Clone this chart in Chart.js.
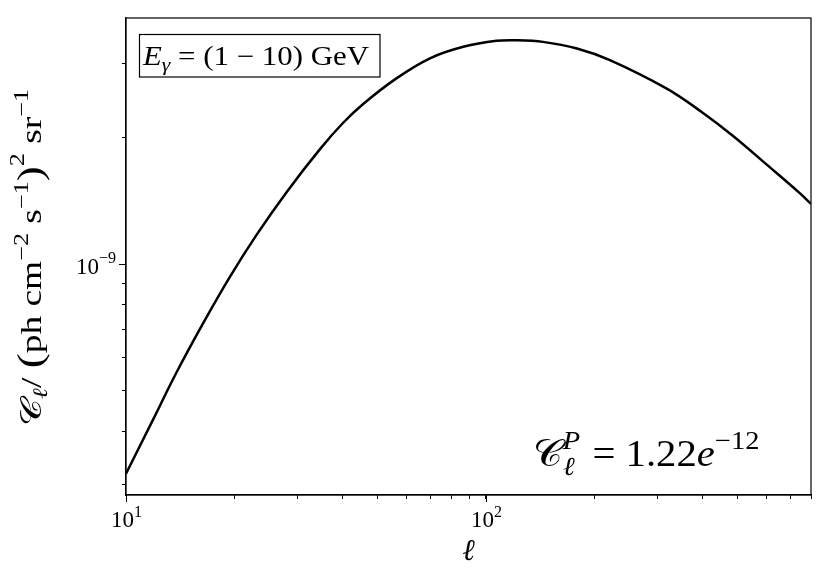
<!DOCTYPE html>
<html lang="en">
<head>
<meta charset="UTF-8">
<script src="https://cdn.jsdelivr.net/npm/chart.js"></script>
<title>Angular power spectrum</title>
<style>
  html, body { margin: 0; padding: 0; background: #fff; }
</style>
</head>
<body>
<canvas id="grafico" width="830" height="581"></canvas>
<script>
// multipole values
const ellValues = [10, 11.9, 13.8, 16.4, 19.4, 23.0, 27.9, 34.5, 40, 45.6, 56.4, 69.9, 86.5,
  107, 122, 144, 179, 221, 318, 394, 488, 604, 747, 800];
// C_l in units of 1e-9 (ph cm^-2 s^-1)^2 sr^-1
const clValues = [0.318, 0.428, 0.552, 0.725, 0.93, 1.17, 1.48, 1.87, 2.16, 2.40, 2.76, 3.08, 3.28,
  3.39, 3.40, 3.37, 3.25, 3.05, 2.61, 2.31, 2.01, 1.72, 1.47, 1.39];

const xTickValues = [10, 20, 30, 40, 50, 60, 70, 80, 90, 100, 200, 300, 400, 500, 600, 700, 800];
const xMajorTicks = [[10, '1'], [100, '2']];
const yTickValues = [3e-10, 4e-10, 5e-10, 6e-10, 7e-10, 8e-10, 9e-10, 1e-9, 2e-9, 3e-9];
const yMajorTicks = [[1e-9, '\u22129']];

const SERIF = '"Liberation Serif", "DejaVu Serif", serif';

function font(size, italic) {
  return (italic ? 'italic ' : '') + size + 'px ' + SERIF;
}

// runs: [text, sizeFactor, dy (in em, + is down), italic]
function runsWidth(ctx, runs, size) {
  let w = 0;
  runs.forEach(r => {
    ctx.font = font(size * r[1], r[3]);
    w += ctx.measureText(r[0]).width;
  });
  return w;
}
function drawRuns(ctx, runs, x, y, size) {
  let cx = x;
  runs.forEach(r => {
    ctx.font = font(size * r[1], r[3]);
    ctx.fillText(r[0], cx, y + r[2] * size);
    cx += ctx.measureText(r[0]).width;
  });
  return cx;
}
// same, stretched along the text to a given width (CM is wider than Times)
function drawRunsFit(ctx, runs, x, y, size, width) {
  const w = runsWidth(ctx, runs, size);
  ctx.save();
  ctx.translate(x, y);
  ctx.scale(width / w, 1);
  drawRuns(ctx, runs, 0, 0, size);
  ctx.restore();
}

const decor = {
  id: 'decor',
  afterDraw(chart) {
    const ctx = chart.ctx;
    const a = chart.chartArea;
    const xs = chart.scales.x, ys = chart.scales.y;
    ctx.save();
    ctx.strokeStyle = '#000';
    ctx.fillStyle = '#000';
    ctx.lineWidth = 1.2;
    ctx.strokeRect(a.left, a.top, a.right - a.left, a.bottom - a.top);

    // major ticks a bit longer, with their labels
    ctx.lineWidth = 1;
    ctx.textBaseline = 'alphabetic';
    xMajorTicks.forEach(([v, e]) => {
      const px = Math.round(xs.getPixelForValue(v)) + 0.5;
      ctx.beginPath(); ctx.moveTo(px, a.bottom); ctx.lineTo(px, a.bottom + 7); ctx.stroke();
      const runs = [['10', 1, 0, false], [e, 0.7, -0.45, false]];
      const w = runsWidth(ctx, runs, 23);
      drawRuns(ctx, runs, px - w / 2, 527, 23);
    });
    yMajorTicks.forEach(([v, e]) => {
      const py = Math.round(ys.getPixelForValue(v)) + 0.5;
      ctx.beginPath(); ctx.moveTo(a.left, py); ctx.lineTo(a.left - 7, py); ctx.stroke();
      const runs = [['10', 1, 0, false], [e, 0.7, -0.45, false]];
      const w = runsWidth(ctx, runs, 23);
      drawRuns(ctx, runs, 116 - w, py + 9, 23);
    });

    // x axis title
    ctx.font = font(30, true);
    ctx.textAlign = 'center';
    ctx.fillText('\u2113', (a.left + a.right) / 2, 560);
    ctx.textAlign = 'left';

    // y axis title, rotated
    const yRuns = [
      ['\uD835\uDC9E', 1, 0, false], ['\u2113', 0.7, 0.22, true], ['/ ', 1, 0, false],
      ['(', 1.2, 0.05, false], ['ph cm', 1, 0, false], ['\u22122', 0.7, -0.45, false],
      [' s', 1, 0, false], ['\u22121', 0.7, -0.45, false], [')', 1.2, 0.05, false],
      ['2', 0.7, -0.6, false], [' sr', 1, 0, false], ['\u22121', 0.7, -0.45, false]
    ];
    ctx.save();
    ctx.translate(41, 258);
    ctx.rotate(-Math.PI / 2);
    drawRunsFit(ctx, yRuns, -168, 0, 29, 337);
    ctx.restore();

    // energy box
    ctx.lineWidth = 1.2;
    ctx.strokeRect(139.5, 34.5, 240.5, 42.5);
    drawRunsFit(ctx, [['E', 1, 0, true], ['\u03B3', 0.7, 0.22, true], [' = (1 \u2212 10) GeV', 1, 0, false]],
      143, 65, 27, 226);

    // Poisson term annotation
    const s = 37;
    const x0 = 533, y0 = 466;
    ctx.save();
    ctx.translate(x0, y0);
    ctx.scale(1.1, 1);
    ctx.font = font(s, false);
    ctx.fillText('\uD835\uDC9E', 0, 0);
    const cw = ctx.measureText('\uD835\uDC9E').width;
    ctx.font = font(s * 0.7, true);
    ctx.fillText('P', cw, -0.45 * s);
    const pw = ctx.measureText('P').width;
    ctx.fillText('\u2113', cw, 0.25 * s);
    drawRuns(ctx, [[' = 1.22', 1, 0, false], ['e', 1, 0, true], ['\u221212', 0.7, -0.45, false]],
      cw + pw + 2, 0, s);
    ctx.restore();
    ctx.restore();
  }
};

new Chart(document.getElementById('grafico'), {
  type: 'line',
  data: {
    datasets: [{
      data: ellValues.map((l, i) => ({ x: l, y: clValues[i] * 1e-9 })),
      borderColor: '#000',
      borderWidth: 2.5,
      pointRadius: 0,
      tension: 0.35,
      fill: false
    }]
  },
  options: {
    responsive: false,
    animation: false,
    devicePixelRatio: 1,
    layout: { padding: { top: 18, right: 19, left: 0, bottom: 0 } },
    plugins: { legend: { display: false }, tooltip: { enabled: false } },
    scales: {
      x: {
        type: 'logarithmic',
        min: 10,
        max: 800,
        afterBuildTicks: s => { s.ticks = xTickValues.map(v => ({ value: v })); },
        afterFit: s => { s.height = 86; },
        ticks: { autoSkip: false, maxRotation: 0, callback: () => '' },
        grid: { drawOnChartArea: false, drawTicks: true, tickLength: 4, color: '#000', lineWidth: 1 },
        border: { display: true, color: '#000', width: 1.2 }
      },
      y: {
        type: 'logarithmic',
        min: 2.83e-10,
        max: 3.84e-9,
        afterBuildTicks: s => { s.ticks = yTickValues.map(v => ({ value: v })); },
        afterFit: s => { s.width = 126; },
        ticks: { autoSkip: false, callback: () => '' },
        grid: { drawOnChartArea: false, drawTicks: true, tickLength: 4, color: '#000', lineWidth: 1 },
        border: { display: true, color: '#000', width: 1.2 }
      }
    }
  },
  plugins: [decor]
});
</script>
</body>
</html>
